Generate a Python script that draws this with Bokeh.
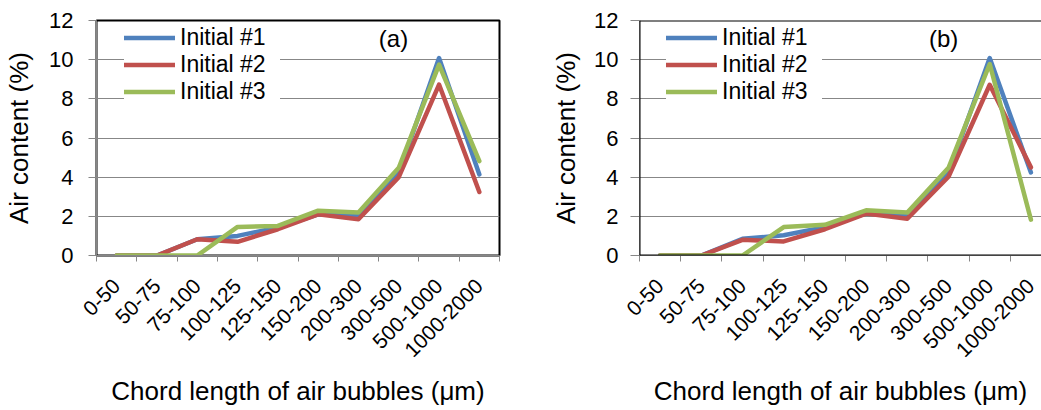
from math import pi
from bokeh.plotting import figure
from bokeh.models import Range1d, FixedTicker, Label, Span
from bokeh.layouts import row
from bokeh.embed import file_html
from bokeh.resources import INLINE

categories = ["0-50", "50-75", "75-100", "100-125", "125-150", "150-200",
              "200-300", "300-500", "500-1000", "1000-2000"]
series_names = ["Initial #1", "Initial #2", "Initial #3"]

a_initial1 = [0, 0, 0.83, 1.0, 1.43, 2.1, 2.0, 4.2, 10.08, 4.14]
a_initial2 = [0, 0, 0.83, 0.7, 1.34, 2.1, 1.85, 4.0, 8.73, 3.24]
a_initial3 = [0, 0, 0, 1.46, 1.51, 2.29, 2.19, 4.48, 9.75, 4.82]

b_initial1 = [0, 0, 0.85, 1.03, 1.45, 2.15, 2.05, 4.2, 10.08, 4.24]
b_initial2 = [0, 0, 0.8, 0.72, 1.34, 2.14, 1.88, 4.02, 8.72, 4.5]
b_initial3 = [0, 0, 0, 1.45, 1.57, 2.31, 2.19, 4.48, 9.78, 1.83]

y_ticks = [0, 2, 4, 6, 8, 10, 12]
colors = ["#4F81BD", "#C0504D", "#9BBB59"]
x_title = "Chord length of air bubbles (\u03bcm)"
y_title = "Air content (%)"

FONT = "Liberation Sans"
GRID = "#878787"


def make_panel(tag, series, width, ml, mr, mt, mb, x_end, boxed, legend_loc, tag_pos,
               xlab_standoff, xtitle_standoff, ytick_standoff, ylab_standoff, ytick_out):
    n = len(categories)
    centers = [i + 0.5 for i in range(n)]
    bounds = [float(i) for i in range(n + 1)]
    p = figure(width=width, height=410, output_backend="svg", toolbar_location=None,
               x_range=Range1d(0, x_end), y_range=Range1d(0, 12),
               min_border_left=ml, min_border_right=mr, min_border_top=mt,
               min_border_bottom=mb, background_fill_color="white",
               border_fill_color="white")
    for vals, name, c in zip(series, series_names, colors):
        p.line(centers, vals, line_color=c, line_width=4.5, line_join="round",
               line_cap="round", legend_label=name)

    # x axis: labels at category centres, tick marks at category boundaries
    xa = p.xaxis[0]
    xa.ticker = FixedTicker(ticks=centers, minor_ticks=bounds)
    xa.major_label_overrides = {c: lab for c, lab in zip(centers, categories)}
    xa.major_tick_out = 0
    xa.major_tick_in = 0
    xa.minor_tick_out = 6
    xa.minor_tick_in = 0
    xa.minor_tick_line_color = GRID
    xa.axis_line_color = GRID
    xa.major_label_orientation = pi / 4
    xa.major_label_standoff = xlab_standoff
    xa.major_label_text_font = FONT
    xa.major_label_text_font_size = "21px"
    xa.major_label_text_color = "black"
    xa.axis_label = x_title
    xa.axis_label_text_font = FONT
    xa.axis_label_text_font_size = "26px"
    xa.axis_label_text_font_style = "normal"
    xa.axis_label_text_color = "black"
    xa.axis_label_standoff = xtitle_standoff

    ya = p.yaxis[0]
    ya.ticker = FixedTicker(ticks=y_ticks)
    ya.major_tick_out = ytick_out
    ya.major_tick_in = 0
    ya.minor_tick_line_color = None
    ya.major_tick_line_color = GRID
    ya.axis_line_color = GRID
    ya.major_label_standoff = ytick_standoff
    ya.major_label_text_font = FONT
    ya.major_label_text_font_size = "22px"
    ya.major_label_text_color = "black"
    ya.axis_label = y_title
    ya.axis_label_text_font = FONT
    ya.axis_label_text_font_size = "26px"
    ya.axis_label_text_font_style = "normal"
    ya.axis_label_text_color = "black"
    ya.axis_label_standoff = ylab_standoff

    p.xgrid.grid_line_color = None
    p.ygrid.ticker = FixedTicker(ticks=y_ticks)
    p.ygrid.grid_line_color = GRID
    p.ygrid.grid_line_width = 1.2

    if boxed:
        p.outline_line_color = "black"
        p.outline_line_width = 2
    else:
        p.outline_line_color = None
        p.add_layout(Span(location=12, dimension="width", line_color="black", line_width=2))
        p.add_layout(Span(location=0, dimension="width", line_color="black", line_width=2))
        p.add_layout(Span(location=0, dimension="height", line_color="black", line_width=2))

    lg = p.legend[0]
    lg.location = legend_loc
    lg.border_line_color = None
    lg.background_fill_color = "white"
    lg.background_fill_alpha = 1
    lg.padding = 2
    lg.margin = 0
    lg.spacing = 0
    lg.glyph_width = 51
    lg.glyph_height = 27
    lg.label_height = 27
    lg.label_standoff = 5
    lg.label_text_font = FONT
    lg.label_text_font_size = "23px"
    lg.label_text_color = "black"
    lg.label_width = 100

    p.add_layout(Label(x=tag_pos[0], y=tag_pos[1], text=tag, text_font=FONT,
                       text_font_size="24px", text_align="center",
                       text_baseline="middle", text_color="black"))
    return p


pa = make_panel("(a)", [a_initial1, a_initial2, a_initial3], 520, 96, 21, 20, 155, 10, True,
                (28, 150), (7.37, 11.07), 21, 10, 15, 12, 8)
pb = make_panel("(b)", [b_initial1, b_initial2, b_initial3], 521, 119, 0, 20, 155, 9.757, False,
                (27, 150), (7.38, 11.08), 21, 10, 12, 10, 9)

layout = row(pa, pb, spacing=0)
open("out.html", "w").write(file_html(layout, INLINE))
